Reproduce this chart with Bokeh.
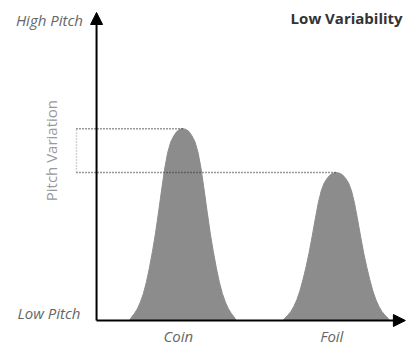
import numpy as np
from bokeh.plotting import figure
from bokeh.models import Range1d, Label, Arrow, NormalHead
from bokeh.embed import file_html
from bokeh.resources import INLINE

# --- data (pitch in axis units 0..1, position 0..1) ---
categories = ["Coin", "Foil"]
peak_pitch = [0.646, 0.498]
peak_position = [0.284, 0.789]
# shape of each peak: distance from centre -> share of peak height
profile_offset = [0.0, 0.01, 0.02, 0.03, 0.04, 0.05, 0.06, 0.07, 0.08, 0.09,
                  0.10, 0.11, 0.12, 0.13, 0.14, 0.15, 0.16, 0.17, 0.175]
profile_share = [1.0, 0.996, 0.985, 0.962, 0.93, 0.875, 0.79, 0.68, 0.565, 0.455,
                 0.36, 0.275, 0.2, 0.14, 0.095, 0.06, 0.035, 0.015, 0.0]
title = "Low Variability"
y_top_label = "High Pitch"
y_bottom_label = "Low Pitch"
y_axis_label = "Pitch Variation"

p = figure(width=406, height=347, output_backend="svg", toolbar_location=None,
           x_range=Range1d(-0.316, 1.0197), y_range=Range1d(-0.0909, 1.0774),
           min_border=0)
p.axis.visible = False
p.grid.visible = False
p.outline_line_color = None
p.background_fill_color = "white"

off = np.array(profile_offset)
share = np.array(profile_share)
for c, h in zip(peak_position, peak_pitch):
    xs = np.concatenate([c - off[::-1], c + off[1:]])
    ys = h * np.concatenate([share[::-1], share[1:]])
    p.patch(xs, ys, fill_color="#8c8c8c", line_color="#8c8c8c", line_width=1)

# dotted guides from left to each peak
guide_x = -0.066
for c, h in zip(peak_position, peak_pitch):
    p.line([guide_x, c], [h, h], line_color="#333333", line_dash="1 2", line_width=1.5)
p.line([guide_x, guide_x], [min(peak_pitch), max(peak_pitch)],
       line_color="#aaaaaa", line_dash="1 2", line_width=1.5)

# axes with arrows
p.add_layout(Arrow(x_start=0, y_start=0, x_end=0, y_end=1.037,
                   line_color="black", line_width=2,
                   end=NormalHead(size=12, fill_color="black", line_color="black")))
p.add_layout(Arrow(x_start=0, y_start=0, x_end=1.016, y_end=0,
                   line_color="black", line_width=2,
                   end=NormalHead(size=12, fill_color="black", line_color="black")))

font = "Open Sans"
p.add_layout(Label(x=-0.045, y=1.013, text=y_top_label, text_font=font,
                   text_font_style="italic", text_font_size="15px",
                   text_color="#666666", text_align="right", text_baseline="middle"))
p.add_layout(Label(x=-0.053, y=0.024, text=y_bottom_label, text_font=font,
                   text_font_style="italic", text_font_size="15px",
                   text_color="#666666", text_align="right", text_baseline="middle"))
p.add_layout(Label(x=1.007, y=1.017, text=title, text_font=font,
                   text_font_style="bold", text_font_size="15px",
                   text_color="#333333", text_align="right", text_baseline="middle"))
p.add_layout(Label(x=-0.151, y=0.572, text=y_axis_label, text_font=font,
                   text_font_size="15px", angle=np.pi / 2,
                   text_color="#999999", text_align="center", text_baseline="middle"))
for c, name in zip(peak_position, categories):
    p.add_layout(Label(x=c - 0.015, y=-0.052, text=name, text_font=font,
                       text_font_style="italic", text_font_size="15px",
                       text_color="#666666", text_align="center", text_baseline="middle"))

open("out.html", "w").write(file_html(p, INLINE))
